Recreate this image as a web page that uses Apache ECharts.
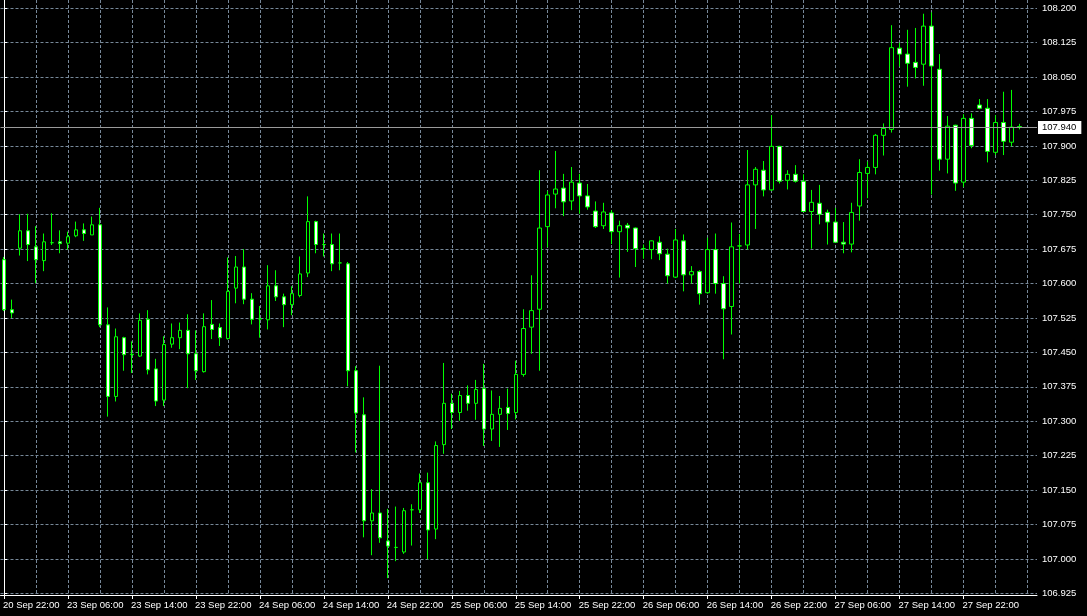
<!DOCTYPE html>
<html>
<head>
<meta charset="utf-8">
<script src="https://cdn.jsdelivr.net/npm/echarts@6/dist/echarts.min.js"></script>
<style>
html,body{margin:0;padding:0;background:#000;}
#chart{width:1087px;height:616px;}
</style>
</head>
<body>
<div id="chart"></div>
<script>
// Hourly candles, index 0 = 20 Sep 22:00
const opens = [
107.652,107.543,107.677,107.715,107.680,107.650,107.689,107.691,107.688,107.704,
107.717,107.706,107.728,107.510,107.354,107.482,107.445,107.442,107.522,107.414,
107.346,107.468,107.482,107.498,107.447,107.408,107.511,107.504,107.480,107.590,
107.636,107.566,107.523,107.521,107.595,107.571,107.554,107.574,107.623,107.735,
107.685,107.685,107.645,107.643,107.410,107.314,107.083,107.100,107.039,107.025,
107.015,107.107,107.107,107.166,107.065,107.249,107.339,107.319,107.356,107.339,
107.371,107.283,107.315,107.330,107.319,107.402,107.505,107.544,107.724,107.795,
107.808,107.780,107.819,107.791,107.758,107.726,107.754,107.713,107.727,107.721,
107.676,107.674,107.690,107.664,107.614,107.693,107.619,107.626,107.580,107.674,
107.600,107.550,107.682,107.684,107.815,107.847,107.804,107.899,107.825,107.838,
107.823,107.757,107.775,107.755,107.734,107.690,107.686,107.769,107.840,107.853,
107.923,107.936,108.113,108.100,108.082,108.078,108.161,108.067,107.871,107.945,
107.821,107.960,107.989,107.982,107.886,107.951,107.908,107.942];
const highs = [
107.658,107.565,107.751,107.752,107.725,107.709,107.753,107.716,107.713,107.735,
107.731,107.746,107.765,107.548,107.502,107.484,107.474,107.535,107.542,107.436,
107.485,107.513,107.515,107.533,107.498,107.535,107.564,107.513,107.657,107.660,
107.675,107.579,107.551,107.640,107.629,107.578,107.594,107.659,107.790,107.737,
107.709,107.709,107.709,107.647,107.420,107.352,107.152,107.421,107.109,107.114,
107.111,107.119,107.186,107.188,107.256,107.427,107.360,107.366,107.378,107.390,
107.425,107.367,107.355,107.371,107.432,107.544,107.618,107.847,107.802,107.889,
107.839,107.854,107.839,107.817,107.779,107.776,107.760,107.737,107.732,107.722,
107.685,107.694,107.703,107.676,107.719,107.707,107.638,107.629,107.700,107.709,
107.616,107.733,107.708,107.891,107.854,107.867,107.967,107.900,107.847,107.858,
107.838,107.804,107.815,107.761,107.765,107.734,107.776,107.871,107.866,107.926,
107.949,108.163,108.125,108.153,108.157,108.188,108.191,108.100,107.965,107.946,
107.969,107.971,108.002,108.002,107.967,108.018,108.022,107.948];
const lows = [
107.540,107.525,107.661,107.649,107.601,107.627,107.684,107.666,107.674,107.701,
107.693,107.706,107.505,107.310,107.343,107.410,107.405,107.440,107.402,107.333,
107.333,107.460,107.457,107.372,107.390,107.406,107.479,107.464,107.478,107.557,
107.555,107.511,107.482,107.500,107.562,107.505,107.531,107.570,107.614,107.666,
107.659,107.627,107.629,107.376,107.232,107.047,107.008,107.035,106.958,106.995,
107.011,107.029,107.100,106.999,107.043,107.229,107.283,107.301,107.323,107.303,
107.246,107.257,107.244,107.281,107.304,107.397,107.447,107.410,107.679,107.764,
107.747,107.760,107.752,107.761,107.721,107.719,107.686,107.613,107.669,107.636,
107.654,107.653,107.651,107.600,107.612,107.583,107.600,107.554,107.578,107.578,
107.435,107.489,107.600,107.674,107.719,107.790,107.802,107.818,107.805,107.820,
107.757,107.676,107.729,107.685,107.690,107.666,107.668,107.737,107.786,107.838,
107.879,107.929,108.073,108.029,108.047,108.031,107.794,107.846,107.840,107.802,
107.810,107.895,107.980,107.864,107.880,107.880,107.899,107.936];
const closes = [
107.543,107.536,107.715,107.685,107.652,107.691,107.689,107.687,107.702,107.717,
107.709,107.728,107.510,107.354,107.484,107.445,107.446,107.520,107.412,107.344,
107.467,107.482,107.498,107.447,107.410,107.506,107.500,107.482,107.583,107.636,
107.566,107.522,107.523,107.595,107.571,107.554,107.578,107.621,107.735,107.685,
107.685,107.643,107.645,107.410,107.318,107.083,107.100,107.046,107.028,107.025,
107.105,107.107,107.166,107.063,107.247,107.339,107.319,107.356,107.339,107.369,
107.283,107.315,107.328,107.317,107.402,107.502,107.541,107.721,107.793,107.806,
107.778,107.821,107.791,107.767,107.724,107.756,107.713,107.726,107.721,107.676,
107.676,107.693,107.665,107.617,107.695,107.619,107.626,107.578,107.674,107.600,
107.545,107.680,107.682,107.815,107.849,107.804,107.899,107.823,107.838,107.823,
107.757,107.777,107.751,107.734,107.690,107.686,107.755,107.842,107.853,107.923,
107.938,108.114,108.100,108.080,108.071,108.161,108.074,107.871,107.943,107.819,
107.960,107.901,107.982,107.888,107.951,107.910,107.941,107.940];

// One label every 8 bars
const tickLabels = ['20 Sep 22:00','23 Sep 06:00','23 Sep 14:00','23 Sep 22:00','24 Sep 06:00',
  '24 Sep 14:00','24 Sep 22:00','25 Sep 06:00','25 Sep 14:00','25 Sep 22:00','26 Sep 06:00',
  '26 Sep 14:00','26 Sep 22:00','27 Sep 06:00','27 Sep 14:00','27 Sep 22:00'];
const priceTicks = [106.925,107.000,107.075,107.150,107.225,107.300,107.375,107.450,107.525,
  107.600,107.675,107.750,107.825,107.900,107.975,108.050,108.125,108.200];
const lastPrice = 107.940;

const candleData = opens.map((o, i) => [i, o, closes[i], lows[i], highs[i]]);
const labelPositions = tickLabels.map((_, k) => k * 8);
const gridPositions = [];
for (let v = 0; v <= 128; v += 4) gridPositions.push(v);

const FONT = 'Liberation Sans';
const gridLine = { show: true, lineStyle: { color: '#778899', type: [3, 2], width: 1 } };

const chart = echarts.init(document.getElementById('chart'), null, { renderer: 'canvas' });
chart.setOption({
  backgroundColor: '#000000',
  animation: false,
  grid: { left: 0, right: 50, top: 0, bottom: 21, containLabel: false },
  xAxis: [
    {
      type: 'value', min: -0.4375, max: 129.1875, position: 'bottom',
      axisLine: { show: true, lineStyle: { color: '#ffffff', width: 1 } },
      axisTick: { show: true, length: 4, customValues: labelPositions, lineStyle: { color: '#ffffff' } },
      axisLabel: {
        show: true, customValues: labelPositions, color: '#ffffff', fontFamily: FONT, fontSize: 9.5,
        align: 'left', margin: 5, padding: [0, 0, 0, -1],
        formatter: v => tickLabels[Math.round(v / 8)] || ''
      },
      splitLine: { show: false }
    },
    {
      type: 'value', min: -0.4375, max: 129.1875, position: 'bottom',
      axisLine: { show: false }, axisLabel: { show: false },
      axisTick: { show: false, customValues: gridPositions },
      splitLine: Object.assign({ customValues: gridPositions }, gridLine)
    }
  ],
  yAxis: {
    type: 'value', position: 'right', min: 106.9213, max: 108.2179, scale: true,
    axisLine: { show: true, lineStyle: { color: '#ffffff', width: 1 } },
    axisTick: { show: true, length: 3, customValues: priceTicks, lineStyle: { color: '#ffffff' } },
    axisLabel: {
      show: true, customValues: priceTicks, color: '#ffffff', fontFamily: FONT, fontSize: 9.5, margin: 5,
      formatter: v => v.toFixed(3)
    },
    splitLine: Object.assign({ customValues: priceTicks }, gridLine)
  },
  series: [{
    type: 'candlestick',
    xAxisIndex: 0,
    data: candleData,
    encode: { x: 0, y: [1, 2, 3, 4] },
    barWidth: 4,
    itemStyle: {
      color: '#000000', color0: '#ffffff',
      borderColor: '#00ff00', borderColor0: '#00ff00', borderColorDoji: '#00ff00',
      borderWidth: 1
    },
    markLine: {
      silent: true, symbol: ['none', 'none'], animation: false,
      lineStyle: { color: '#9a9a9a', type: 'solid', width: 1 },
      label: {
        show: true, position: 'end', distance: 1, formatter: lastPrice.toFixed(3),
        backgroundColor: '#ffffff', color: '#000000', fontFamily: FONT, fontSize: 9.5,
        padding: [2, 5, 1, 4]
      },
      data: [{ yAxis: lastPrice }]
    }
  }]
});
</script>
</body>
</html>
